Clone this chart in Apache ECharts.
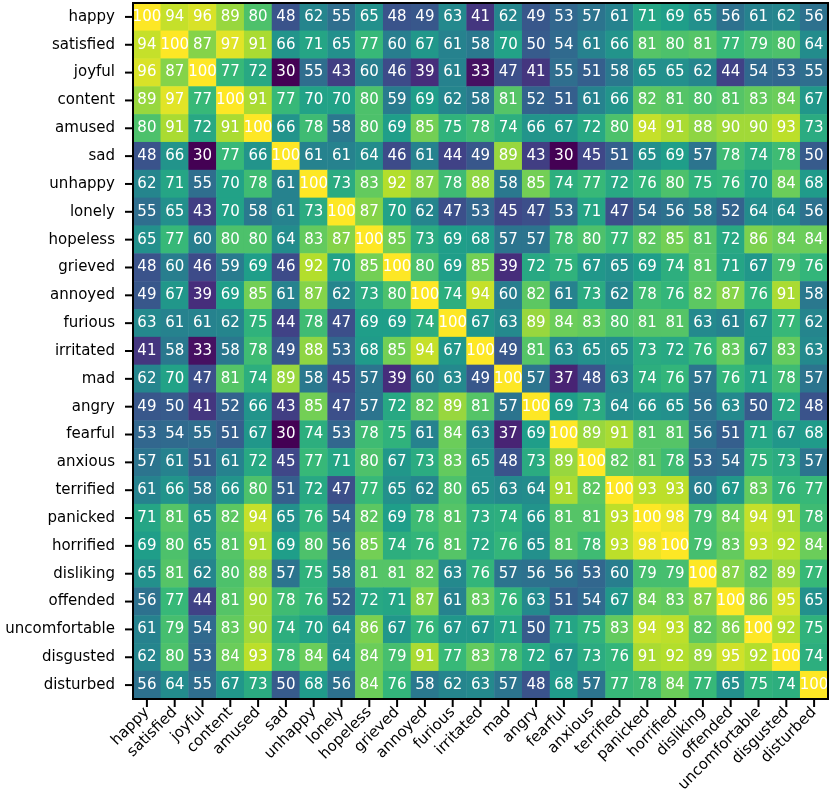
<!DOCTYPE html>
<html>
<head>
<meta charset="utf-8">
<script src="https://cdn.jsdelivr.net/npm/echarts@6/dist/echarts.min.js"></script>
<style>
  html, body { margin: 0; padding: 0; background: #fff; }
  #chart { width: 830px; height: 807px; }
</style>
</head>
<body>
<div id="chart"></div>
<script>
// Emotion labels (rows and columns)
const emotions = ['happy', 'satisfied', 'joyful', 'content', 'amused', 'sad', 'unhappy', 'lonely',
  'hopeless', 'grieved', 'annoyed', 'furious', 'irritated', 'mad', 'angry', 'fearful', 'anxious',
  'terrified', 'panicked', 'horrified', 'disliking', 'offended', 'uncomfortable', 'disgusted', 'disturbed'];

// Similarity matrix, one row per emotion
const happy =         [100, 94, 96, 89, 80, 48, 62, 55, 65, 48, 49, 63, 41, 62, 49, 53, 57, 61, 71, 69, 65, 56, 61, 62, 56];
const satisfied =     [94, 100, 87, 97, 91, 66, 71, 65, 77, 60, 67, 61, 58, 70, 50, 54, 61, 66, 81, 80, 81, 77, 79, 80, 64];
const joyful =        [96, 87, 100, 77, 72, 30, 55, 43, 60, 46, 39, 61, 33, 47, 41, 55, 51, 58, 65, 65, 62, 44, 54, 53, 55];
const content =       [89, 97, 77, 100, 91, 77, 70, 70, 80, 59, 69, 62, 58, 81, 52, 51, 61, 66, 82, 81, 80, 81, 83, 84, 67];
const amused =        [80, 91, 72, 91, 100, 66, 78, 58, 80, 69, 85, 75, 78, 74, 66, 67, 72, 80, 94, 91, 88, 90, 90, 93, 73];
const sad =           [48, 66, 30, 77, 66, 100, 61, 61, 64, 46, 61, 44, 49, 89, 43, 30, 45, 51, 65, 69, 57, 78, 74, 78, 50];
const unhappy =       [62, 71, 55, 70, 78, 61, 100, 73, 83, 92, 87, 78, 88, 58, 85, 74, 77, 72, 76, 80, 75, 76, 70, 84, 68];
const lonely =        [55, 65, 43, 70, 58, 61, 73, 100, 87, 70, 62, 47, 53, 45, 47, 53, 71, 47, 54, 56, 58, 52, 64, 64, 56];
const hopeless =      [65, 77, 60, 80, 80, 64, 83, 87, 100, 85, 73, 69, 68, 57, 57, 78, 80, 77, 82, 85, 81, 72, 86, 84, 84];
const grieved =       [48, 60, 46, 59, 69, 46, 92, 70, 85, 100, 80, 69, 85, 39, 72, 75, 67, 65, 69, 74, 81, 71, 67, 79, 76];
const annoyed =       [49, 67, 39, 69, 85, 61, 87, 62, 73, 80, 100, 74, 94, 60, 82, 61, 73, 62, 78, 76, 82, 87, 76, 91, 58];
const furious =       [63, 61, 61, 62, 75, 44, 78, 47, 69, 69, 74, 100, 67, 63, 89, 84, 83, 80, 81, 81, 63, 61, 67, 77, 62];
const irritated =     [41, 58, 33, 58, 78, 49, 88, 53, 68, 85, 94, 67, 100, 49, 81, 63, 65, 65, 73, 72, 76, 83, 67, 83, 63];
const mad =           [62, 70, 47, 81, 74, 89, 58, 45, 57, 39, 60, 63, 49, 100, 57, 37, 48, 63, 74, 76, 57, 76, 71, 78, 57];
const angry =         [49, 50, 41, 52, 66, 43, 85, 47, 57, 72, 82, 89, 81, 57, 100, 69, 73, 64, 66, 65, 56, 63, 50, 72, 48];
const fearful =       [53, 54, 55, 51, 67, 30, 74, 53, 78, 75, 61, 84, 63, 37, 69, 100, 89, 91, 81, 81, 56, 51, 71, 67, 68];
const anxious =       [57, 61, 51, 61, 72, 45, 77, 71, 80, 67, 73, 83, 65, 48, 73, 89, 100, 82, 81, 78, 53, 54, 75, 73, 57];
const terrified =     [61, 66, 58, 66, 80, 51, 72, 47, 77, 65, 62, 80, 65, 63, 64, 91, 82, 100, 93, 93, 60, 67, 83, 76, 77];
const panicked =      [71, 81, 65, 82, 94, 65, 76, 54, 82, 69, 78, 81, 73, 74, 66, 81, 81, 93, 100, 98, 79, 84, 94, 91, 78];
const horrified =     [69, 80, 65, 81, 91, 69, 80, 56, 85, 74, 76, 81, 72, 76, 65, 81, 78, 93, 98, 100, 79, 83, 93, 92, 84];
const disliking =     [65, 81, 62, 80, 88, 57, 75, 58, 81, 81, 82, 63, 76, 57, 56, 56, 53, 60, 79, 79, 100, 87, 82, 89, 77];
const offended =      [56, 77, 44, 81, 90, 78, 76, 52, 72, 71, 87, 61, 83, 76, 63, 51, 54, 67, 84, 83, 87, 100, 86, 95, 65];
const uncomfortable = [61, 79, 54, 83, 90, 74, 70, 64, 86, 67, 76, 67, 67, 71, 50, 71, 75, 83, 94, 93, 82, 86, 100, 92, 75];
const disgusted =     [62, 80, 53, 84, 93, 78, 84, 64, 84, 79, 91, 77, 83, 78, 72, 67, 73, 76, 91, 92, 89, 95, 92, 100, 74];
const disturbed =     [56, 64, 55, 67, 73, 50, 68, 56, 84, 76, 58, 62, 63, 57, 48, 68, 57, 77, 78, 84, 77, 65, 75, 74, 100];

const rows = [happy, satisfied, joyful, content, amused, sad, unhappy, lonely, hopeless, grieved,
  annoyed, furious, irritated, mad, angry, fearful, anxious, terrified, panicked, horrified,
  disliking, offended, uncomfortable, disgusted, disturbed];

// viridis stops
const viridis = ['#440154', '#482878', '#3e4989', '#31688e', '#26828e', '#1f9e89',
  '#35b779', '#6ece58', '#b5de2b', '#fde725'];

const cells = [];
rows.forEach((row, y) => row.forEach((v, x) => cells.push([x, y, v])));

const font = 'DejaVu Sans';
const grid = { left: 133, top: 3, width: 695, height: 696 };

const chart = echarts.init(document.getElementById('chart'));
chart.setOption({
  animation: false,
  grid: grid,
  xAxis: {
    type: 'category',
    data: emotions,
    axisLine: { show: false },
    axisTick: { show: false },
    axisLabel: { rotate: 45, interval: 0, color: '#000', fontSize: 15, fontFamily: font, margin: 11 },
    splitLine: { show: false }
  },
  yAxis: {
    type: 'category',
    data: emotions,
    inverse: true,
    axisLine: { show: false },
    axisTick: { show: false },
    axisLabel: { interval: 0, color: '#000', fontSize: 15, fontFamily: font, margin: 18 },
    splitLine: { show: false }
  },
  visualMap: { show: false, min: 30, max: 100, inRange: { color: viridis } },
  series: [{
    type: 'heatmap',
    data: cells,
    label: { show: true, color: '#fff', fontSize: 15, fontFamily: font }
  }]
});

// frame and tick marks on top, placed from the grid's own coordinate system
const bottom = grid.top + grid.height;
const step = grid.width / emotions.length;
const stepY = grid.height / emotions.length;
const elements = [{
  type: 'rect', z: 100,
  shape: { x: grid.left, y: grid.top, width: grid.width, height: grid.height },
  style: { fill: null, stroke: '#000', lineWidth: 2 }
}];
emotions.forEach((name, i) => {
  let pt = chart.convertToPixel({ gridIndex: 0 }, [i, i]);
  let px = pt && isFinite(pt[0]) ? pt[0] : grid.left + (i + 0.5) * step;
  let py = pt && isFinite(pt[1]) ? pt[1] : grid.top + (i + 0.5) * stepY;
  elements.push({ type: 'rect', z: 100, shape: { x: px - 1, y: bottom, width: 2, height: 8 },
    style: { fill: '#000' } });
  elements.push({ type: 'rect', z: 100, shape: { x: grid.left - 8, y: py - 1, width: 8, height: 2 },
    style: { fill: '#000' } });
});
chart.setOption({ graphic: { elements: elements } });
</script>
</body>
</html>
